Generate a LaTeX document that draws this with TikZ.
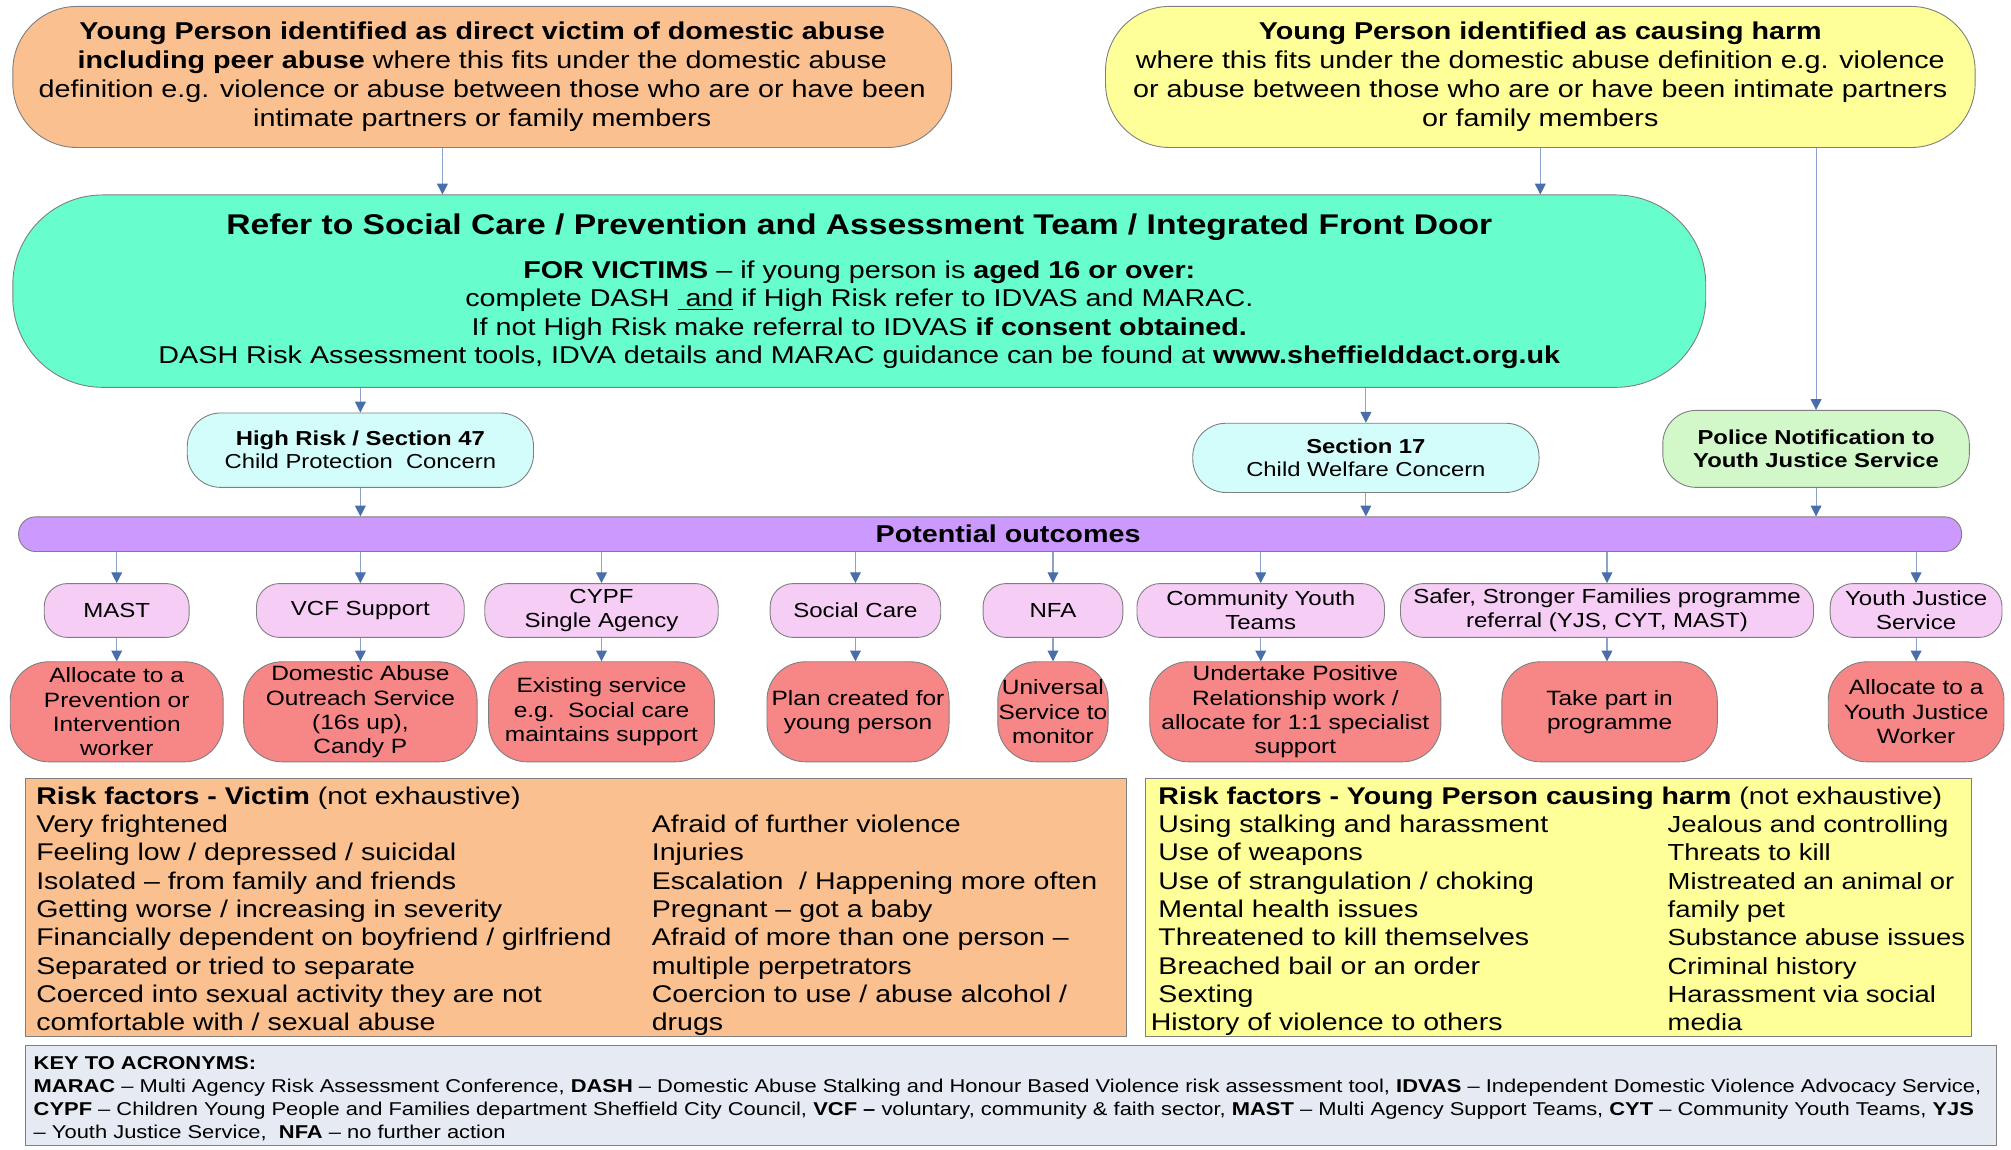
\documentclass[tikz,border=0pt]{standalone}
\usepackage{fontspec}
\setmainfont{Liberation Sans}[FakeStretch=1.18]
\usetikzlibrary{arrows.meta,positioning}

\definecolor{victimorange}{HTML}{FAC090}
\definecolor{harmyellow}{HTML}{FFFF99}
\definecolor{refergreen}{HTML}{68FDCD}
\definecolor{concerncyan}{HTML}{D3FDFB}
\definecolor{policegreen}{HTML}{D2F8CA}
\definecolor{barpurple}{HTML}{CC99FF}
\definecolor{optionpink}{HTML}{F5CDF5}
\definecolor{resultred}{HTML}{F78686}
\definecolor{keyfill}{HTML}{E6EAF2}
\definecolor{outlinegray}{HTML}{7F7F7F}
\definecolor{linkblue}{HTML}{8DA3CF}
\definecolor{arrowblue}{HTML}{4A6EAA}

\tikzset{
	box/.style={rectangle, draw=outlinegray, line width=0.5pt, inner sep=0pt, align=center},
	topoval/.style={box, rounded corners=12.5mm, minimum height=27.5mm, font=\fontsize{13.5}{16}\selectfont},
	referoval/.style={box, rounded corners=17.5mm, fill=refergreen, font=\fontsize{13.5}{15.6}\selectfont},
	concern/.style={box, rounded corners=6.5mm, font=\fontsize{11.2}{12.8}\selectfont},
	outcomebar/.style={box, rounded corners=3.3mm, fill=barpurple, minimum height=6.75mm, font=\bfseries\fontsize{13.5}{16}\selectfont},
	option/.style={box, rounded corners=4.5mm, fill=optionpink, minimum height=10.5mm, font=\fontsize{11.3}{13.5}\selectfont},
	result/.style={box, rounded corners=7.5mm, fill=resultred, minimum height=19.5mm, font=\fontsize{11.5}{13.5}\selectfont},
	panel/.style={rectangle, draw=outlinegray, line width=0.5pt, inner sep=0pt},
	riskline/.style={anchor=base west, inner sep=0pt, font=\fontsize{13.4}{15.6}\selectfont},
	keyline/.style={anchor=base west, inner sep=0pt, font=\fontsize{10.3}{12}\selectfont},
	link/.style={draw=linkblue, line width=0.6pt, -{Triangle[length=6pt,width=6pt,color=arrowblue]}}
}

\begin{document}
\begin{tikzpicture}[x=0.25mm,y=-0.25mm]
	\useasboundingbox (0,0) rectangle (1568,896);

	% who is referred
	\node[topoval, fill=victimorange, minimum width=183mm] (victim) at (376,60)
		{\textbf{Young Person identified as direct victim of domestic abuse}\\
		\textbf{including peer abuse} where this fits under the domestic abuse\\
		definition e.g. violence or abuse between those who are or have been\\
		intimate partners or family members};
	\node[topoval, fill=harmyellow, minimum width=169.5mm] (harm) at (1201,60)
		{\textbf{Young Person identified as causing harm}\\
		where this fits under the domestic abuse definition e.g. violence\\
		or abuse between those who are or have been intimate partners\\
		or family members};

	\node[referoval, minimum width=330mm, minimum height=37.5mm] (refer) at (670,227)
		{{\fontsize{15.8}{19}\selectfont\bfseries Refer to Social Care / Prevention and Assessment Team / Integrated Front Door}\\[9pt]
		\textbf{FOR VICTIMS} – if young person is \textbf{aged 16 or over:}\\
		complete DASH \underline{\ and} if High Risk refer to IDVAS and MARAC.\\
		If not High Risk make referral to IDVAS \textbf{if consent obtained.}\\
		DASH Risk Assessment tools, IDVA details and MARAC guidance can be found at \textbf{www.sheffielddact.org.uk}};

	% concern level
	\node[concern, fill=concerncyan, minimum width=67.5mm, minimum height=14.5mm] (highrisk) at (281,351)
		{\textbf{High Risk / Section 47}\\Child Protection\ \ Concern};
	\node[concern, fill=concerncyan, minimum width=67.5mm, minimum height=13.5mm] (sec17) at (1065,357)
		{\textbf{Section 17}\\Child Welfare Concern};
	\node[concern, fill=policegreen, minimum width=59.75mm, minimum height=15mm] (police) at (1416,350)
		{\textbf{Police Notification to}\\\textbf{Youth Justice Service}};

	\node[outcomebar, minimum width=378.75mm] (bar) at (772,416.5) {\hspace*{7mm}Potential outcomes};

	% outcomes
	\node[option, minimum width=28.25mm] (mast) at (91,476) {MAST};
	\node[option, minimum width=40.5mm] (vcf) at (281,476) {VCF Support};
	\node[option, minimum width=45.5mm] (cypf) at (469,476) {CYPF\\Single Agency};
	\node[option, minimum width=33.25mm] (social) at (667,476) {Social Care};
	\node[option, minimum width=27.25mm] (nfa) at (821,476) {NFA};
	\node[option, minimum width=48.25mm] (cyt) at (983,476) {Community Youth\\Teams};
	\node[option, minimum width=80.5mm] (ssf) at (1253,476) {Safer, Stronger Families programme\\referral (YJS, CYT, MAST)};
	\node[option, minimum width=33.5mm] (yjs) at (1494,476) {Youth Justice\\Service};

	\node[result, minimum width=41.5mm] (alloc) at (91,555) {Allocate to a\\Prevention or\\Intervention\\worker};
	\node[result, minimum width=45.5mm] (daos) at (281,555) {Domestic Abuse\\Outreach Service\\(16s up),\\Candy P};
	\node[result, minimum width=44mm] (exist) at (469,555) {Existing service\\e.g.\ \ Social care\\maintains support};
	\node[result, minimum width=35.5mm] (plan) at (669,555) {Plan created for\\young person};
	\node[result, minimum width=21.5mm] (univ) at (821,555) {Universal\\Service to\\monitor};
	\node[result, minimum width=56.75mm] (undertake) at (1010,555) {Undertake Positive\\Relationship work /\\allocate for 1:1 specialist\\support};
	\node[result, minimum width=42mm] (takepart) at (1255,555) {Take part in\\programme};
	\node[result, minimum width=34.25mm] (allocyj) at (1494,555) {Allocate to a\\Youth Justice\\Worker};

	\draw[link] ([xshift=-7.75mm]victim.south) -- ([xshift=-7.75mm]victim.south |- refer.north);
	\draw[link] (harm.south) -- (harm.south |- refer.north);
	\draw[link] (harm.south -| police) -- (police.north);
	\draw[link] (refer.south -| highrisk) -- (highrisk.north);
	\draw[link] (refer.south -| sec17) -- (sec17.north);
	\foreach \n in {highrisk,sec17,police}
	{
		\draw[link] (\n.south) -- (\n.south |- bar.north);
	};
	\foreach \n in {mast,vcf,cypf,social,nfa,cyt,ssf,yjs}
	{
		\draw[link] (bar.south -| \n) -- (\n.north);
	};
	\foreach \a / \b in {
	mast/alloc,
	vcf/daos,
	cypf/exist,
	social/plan,
	nfa/univ,
	cyt/undertake,
	ssf/takepart,
	yjs/allocyj}
	{
		\draw[link] (\a.south) -- (\a.south |- \b.north);
	};

	% risk factors
	\node[panel, fill=victimorange, minimum width=214.5mm, minimum height=50.25mm] (riskv) at (449,707.5) {};
	\node[panel, fill=harmyellow, minimum width=161mm, minimum height=50.25mm] (riskh) at (1215,707.5) {};

	\node[riskline] (rvtitle) at (28,627) {\textbf{Risk factors - Victim} (not exhaustive)};
	\foreach \t [count=\i] in {Very frightened, Feeling low / depressed / suicidal,
		Isolated – from family and friends, Getting worse / increasing in severity,
		Financially dependent on boyfriend / girlfriend, Separated or tried to separate,
		Coerced into sexual activity they are not, comfortable with / sexual abuse}
	{
		\node[riskline] (rvl\i) at (28,{627+22.1*\i}) {\t};
	};
	\foreach \t [count=\i] in {Afraid of further violence, Injuries,
		Escalation\ \ / Happening more often, Pregnant – got a baby,
		Afraid of more than one person –, multiple perpetrators,
		Coercion to use / abuse alcohol /, drugs}
	{
		\node[riskline] (rvr\i) at (508,{627+22.1*\i}) {\t};
	};

	\node[riskline] (rhtitle) at (903,627) {\textbf{Risk factors - Young Person causing harm} (not exhaustive)};
	\foreach \t [count=\i] in {Using stalking and harassment, Use of weapons,
		Use of strangulation / choking, Mental health issues,
		Threatened to kill themselves, Breached bail or an order, Sexting,
		\hspace*{-1.5mm}History of violence to others}
	{
		\node[riskline] (rhl\i) at (903,{627+22.1*\i}) {\t};
	};
	\foreach \t [count=\i] in {Jealous and controlling, Threats to kill,
		Mistreated an animal or, family pet, Substance abuse issues,
		Criminal history, Harassment via social, media}
	{
		\node[riskline, font=\fontsize{12.9}{15.6}\selectfont] (rhr\i) at (1300,{627+22.1*\i}) {\t};
	};

	% acronyms
	\node[panel, fill=keyfill, minimum width=384.25mm, minimum height=19.5mm] (key) at (788.5,854) {};
	\node[keyline] (key1) at (26,834) {\textbf{KEY TO ACRONYMS:}};
	\node[keyline] (key2) at (26,852) {\textbf{MARAC} – Multi Agency Risk Assessment Conference, \textbf{DASH} – Domestic Abuse Stalking and Honour Based Violence risk assessment tool, \textbf{IDVAS} – Independent Domestic Violence Advocacy Service,};
	\node[keyline] (key3) at (26,870) {\textbf{CYPF} – Children Young People and Families department Sheffield City Council, \textbf{VCF –} voluntary, community \& faith sector, \textbf{MAST} – Multi Agency Support Teams, \textbf{CYT} – Community Youth Teams, \textbf{YJS}};
	\node[keyline] (key4) at (26,888) {– Youth Justice Service,\ \ \textbf{NFA} – no further action};
\end{tikzpicture}
\end{document}
